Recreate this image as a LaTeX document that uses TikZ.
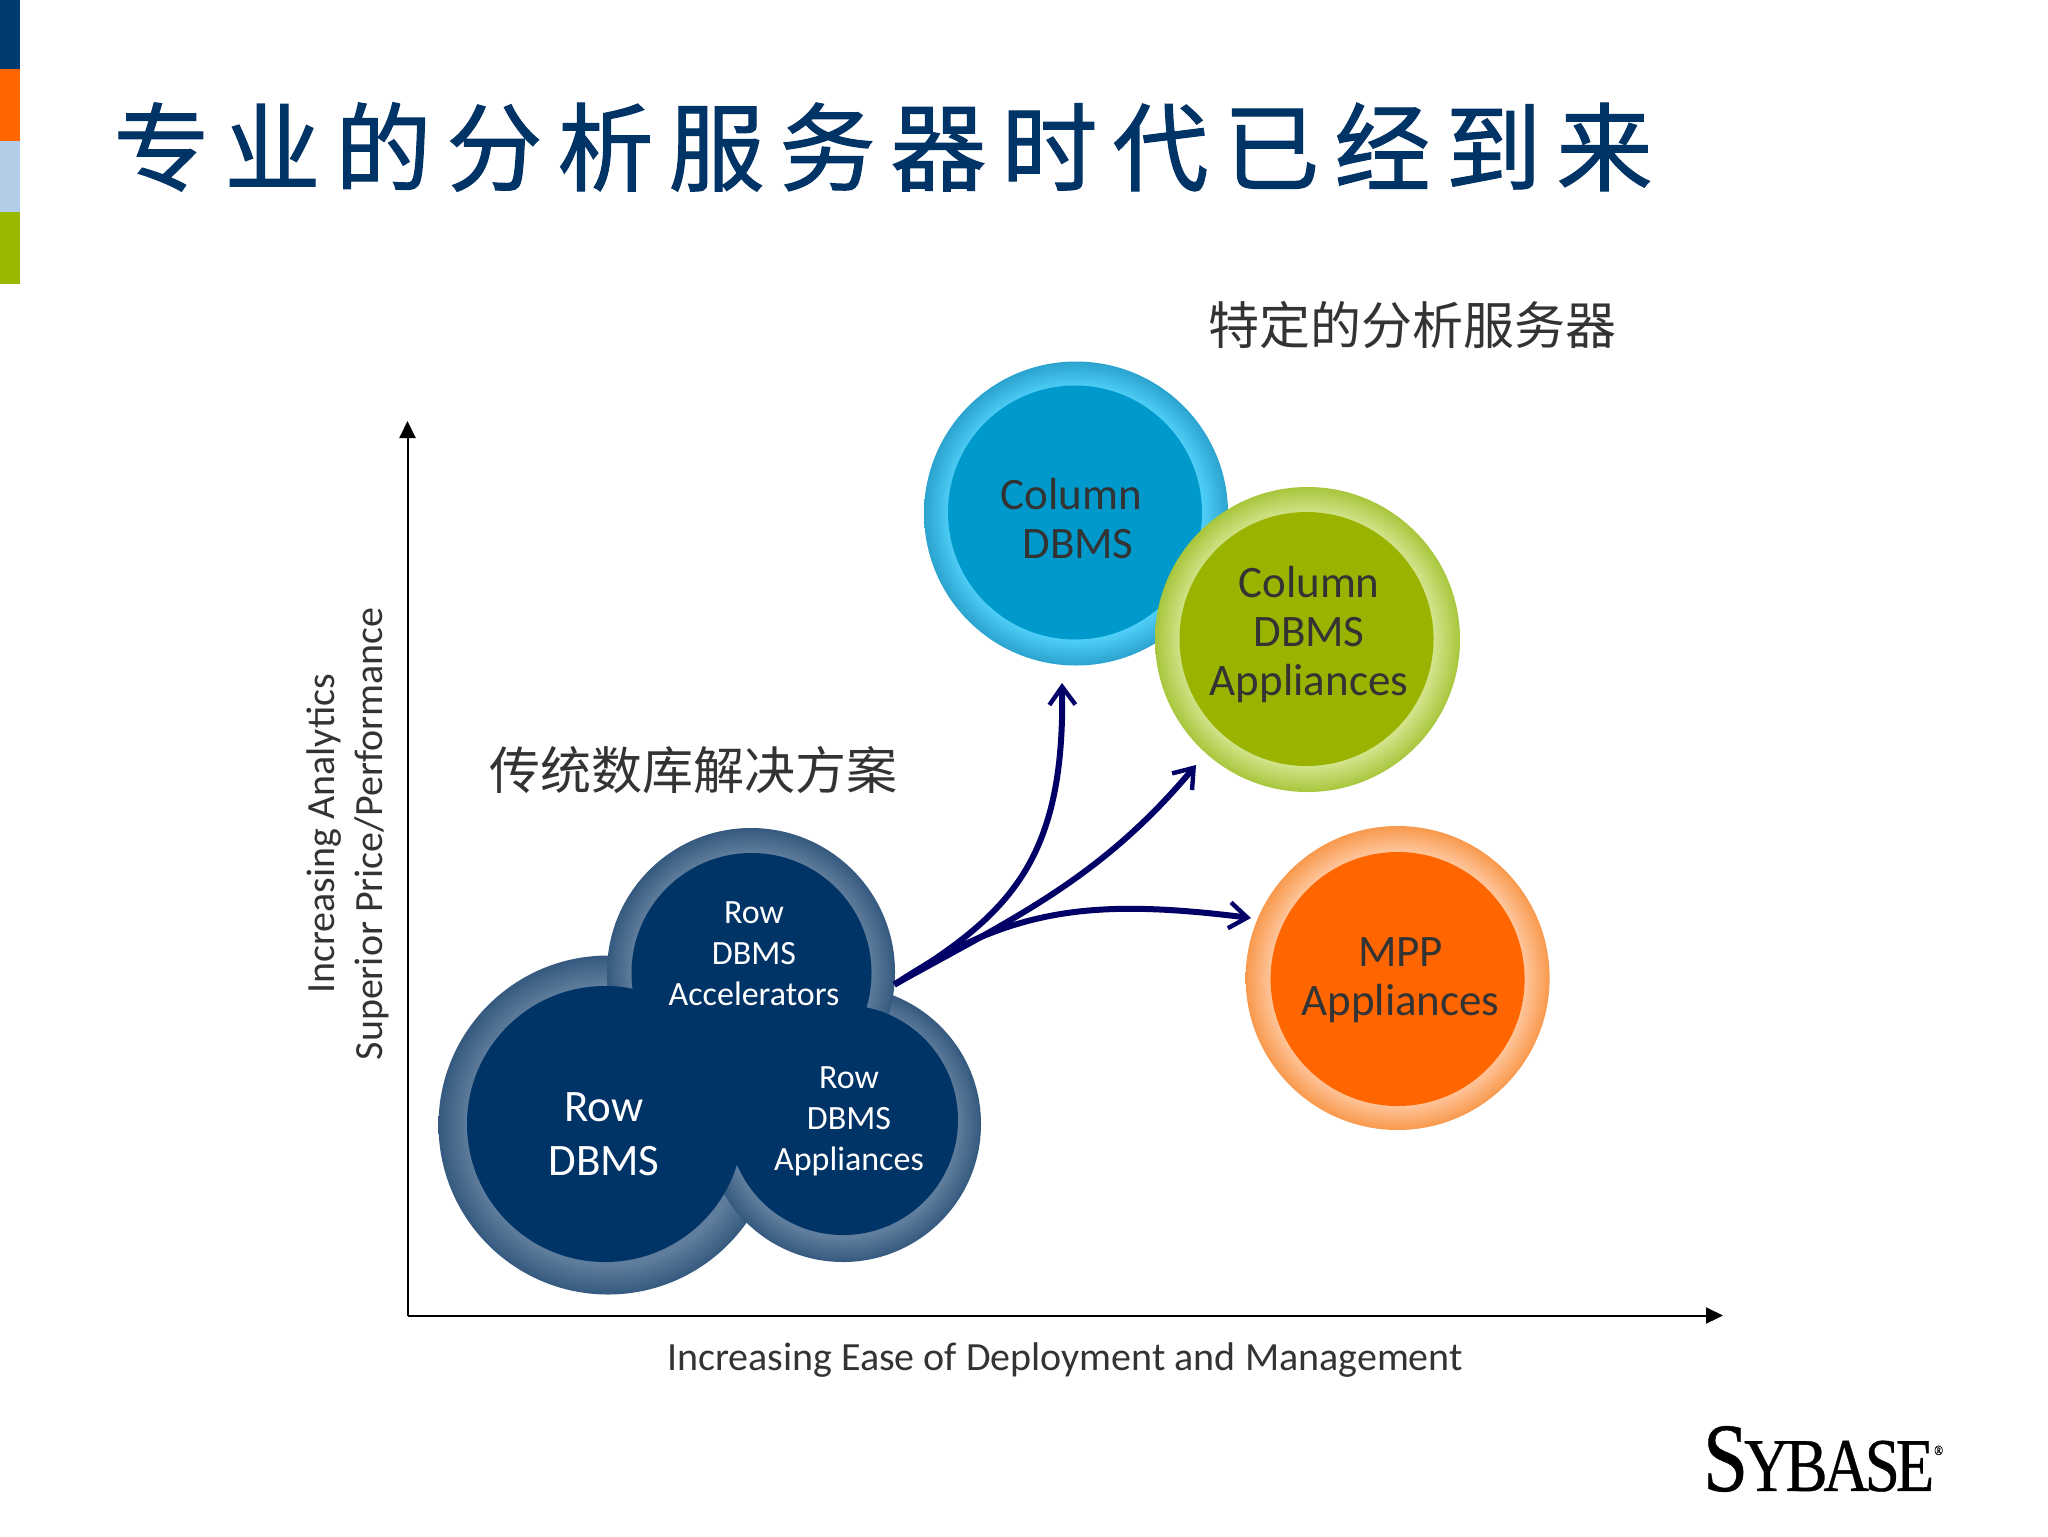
\documentclass[tikz,border=0pt]{standalone}
\usepackage{fontspec}
\usetikzlibrary{arrows.meta}
\setmainfont{Carlito}
\newfontfamily\cjk{Noto Sans CJK SC}
\newfontfamily\cjkheavy[FakeBold=1.2]{Noto Sans CJK SC}
\newfontfamily\logofont[FakeBold=0.5]{Liberation Serif}
\definecolor{navyT}{HTML}{003366}
\definecolor{barA}{HTML}{003A70}
\definecolor{barB}{HTML}{FF6600}
\definecolor{barC}{HTML}{B3CCE8}
\definecolor{barD}{HTML}{9BB800}
\definecolor{rowIn}{HTML}{003366}
\definecolor{rowA}{HTML}{5F7D9C}
\definecolor{rowB}{HTML}{35597F}
\definecolor{colIn}{HTML}{0099CC}
\definecolor{colA}{HTML}{4FD0F8}
\definecolor{colB}{HTML}{2BA3CF}
\definecolor{grnIn}{HTML}{99B300}
\definecolor{grnA}{HTML}{D3E48C}
\definecolor{grnB}{HTML}{A8C63C}
\definecolor{orgIn}{HTML}{FF6600}
\definecolor{orgA}{HTML}{FFC79E}
\definecolor{orgB}{HTML}{F8994D}
\definecolor{arrowC}{HTML}{000066}
\definecolor{ink}{HTML}{333333}
\pgfdeclareradialshading{ringrow}{\pgfpointorigin}{color(0bp)=(rowA);color(20.7bp)=(rowA);color(25bp)=(rowB);color(50bp)=(rowB)}
\pgfdeclareradialshading{ringcol}{\pgfpointorigin}{color(0bp)=(colA);color(20.7bp)=(colA);color(25bp)=(colB);color(50bp)=(colB)}
\pgfdeclareradialshading{ringgrn}{\pgfpointorigin}{color(0bp)=(grnA);color(20.7bp)=(grnA);color(25bp)=(grnB);color(50bp)=(grnB)}
\pgfdeclareradialshading{ringorg}{\pgfpointorigin}{color(0bp)=(orgA);color(20.7bp)=(orgA);color(25bp)=(orgB);color(50bp)=(orgB)}
\tikzset{
  disc/.style={circle,inner sep=0pt,outer sep=0pt,minimum size=#1},
  bar/.style={fill=#1,draw=none},
  lab/.style={align=center,inner sep=0pt,text=ink,font=\fontsize{22.5}{24.5}\selectfont},
  rowlab/.style={align=center,inner sep=0pt,text=white,font=\fontsize{17}{20.5}\selectfont},
  rowbig/.style={align=center,inner sep=0pt,text=white,font=\fontsize{22.5}{27}\selectfont},
  axislab/.style={align=center,inner sep=0pt,text=ink,font=\fontsize{20}{24}\selectfont},
  cjklab/.style={inner sep=0pt,text=ink,font=\cjk\fontsize{25.5}{30}\selectfont},
  axisline/.style={draw=black,line width=1pt,-{Triangle[length=8.5pt,width=8pt]}},
  flow/.style={draw=arrowC,line width=3pt,-{Straight Barb[length=9pt,width=13pt,line width=2.2pt]}},
}
\begin{document}
\begin{tikzpicture}[x=0.5pt,y=-0.5pt]
\useasboundingbox (0,0) rectangle (2048,1536);
\fill[white] (0,0) rectangle (2048,1536);
% side bars
\fill[bar=barA] (0,0) rectangle (20,69);
\fill[bar=barB] (0,69) rectangle (20,141);
\fill[bar=barC] (0,141) rectangle (20,212);
\fill[bar=barD] (0,212) rectangle (20,284);
% title
\node[inner sep=0pt,text=navyT,font=\cjkheavy\fontsize{48}{52}\selectfont] (title) at (883,147)
 {专\hspace{7.5pt}业\hspace{7.5pt}的\hspace{7.5pt}分\hspace{7.5pt}析\hspace{7.5pt}服\hspace{7.5pt}务\hspace{7.5pt}器\hspace{7.5pt}时\hspace{7.5pt}代\hspace{7.5pt}已\hspace{7.5pt}经\hspace{7.5pt}到\hspace{7.5pt}来};
% axes
\coordinate (origin) at (407.5,1315.5);
\coordinate (ytop) at (407.5,421);
\coordinate (xend) at (1723,1315.5);
\draw[axisline] (origin) -- (ytop);
\draw[axisline] (origin) -- (xend);
\node[axislab,rotate=90] (ylabel) at (347.5,834) {Increasing Analytics\\Superior Price/Performance};
\node[axislab] (xlabel) at (1065,1360) {Increasing Ease of Deployment and Management};
% row group
\node[disc=339pt*0.5,shading=ringrow] (bigO) at (608,1125) {};
\node[disc=276pt*0.5,shading=ringrow] (appO) at (843,1124) {};
\node[disc=288pt*0.5,shading=ringrow] (accO) at (751,972) {};
\node[disc=276pt*0.5,fill=rowIn] (bigI) at (605,1124) {};
\node[disc=230pt*0.5,fill=rowIn] (appI) at (843,1120) {};
\node[disc=240pt*0.5,fill=rowIn] (accI) at (751.5,973) {};
\node[rowbig] (bigT) at (604,1134) {Row\\DBMS};
\node[rowlab] (accT) at (754,954) {Row\\DBMS\\Accelerators};
\node[rowlab] (appT) at (849,1121.5) {Row\\DBMS\\Appliances};
% column group
\node[disc=304pt*0.5,shading=ringcol] (colO) at (1076,513.5) {};
\node[disc=254pt*0.5,fill=colIn] (colI) at (1075,512.5) {};
\node[disc=305pt*0.5,shading=ringgrn] (grnO) at (1307.5,639.5) {};
\node[disc=254pt*0.5,fill=grnIn] (grnI) at (1306.5,639) {};
\node[disc=304pt*0.5,shading=ringorg] (orgO) at (1397.6,978) {};
\node[disc=254pt*0.5,fill=orgIn] (orgI) at (1397.6,979) {};
\node[lab] (colT) at (1071.5,519) {Column\\\hspace*{6.5pt}DBMS};
\node[lab] (grnT) at (1309,634) {Column\\DBMS\\Appliances};
\node[lab] (orgT) at (1400.5,980.5) {MPP\\Appliances};
% group captions
\node[cjklab] (capA) at (1412,325) {特定的分析服务器};
\node[cjklab] (capB) at (693,770) {传统数库解决方案};
% connectors
\coordinate (tipA) at (1062,683);
\coordinate (tipB) at (1196,765);
\coordinate (tipC) at (1251,918);
\draw[flow] (accO.-5) .. controls (1010,915) and (1065,860) .. (tipA);
\draw[flow] (accO.-5) .. controls (1010,920) and (1100,880) .. (tipB);
\draw[flow] (accO.-5) .. controls (1010,908) and (1090,898) .. (tipC);
% logo
\node[inner sep=0pt,text=black,xscale=0.83,transform shape,font=\logofont] (logo) at (1823,1459)
 {\fontsize{49}{52}\selectfont S\kern-2.5pt\fontsize{38}{52}\selectfont Y\kern-2.5pt B\kern-2.5pt A\kern-2.5pt S\kern-2.5pt E\raisebox{18pt}{\fontsize{7}{8}\selectfont ®}};
\end{tikzpicture}
\end{document}
